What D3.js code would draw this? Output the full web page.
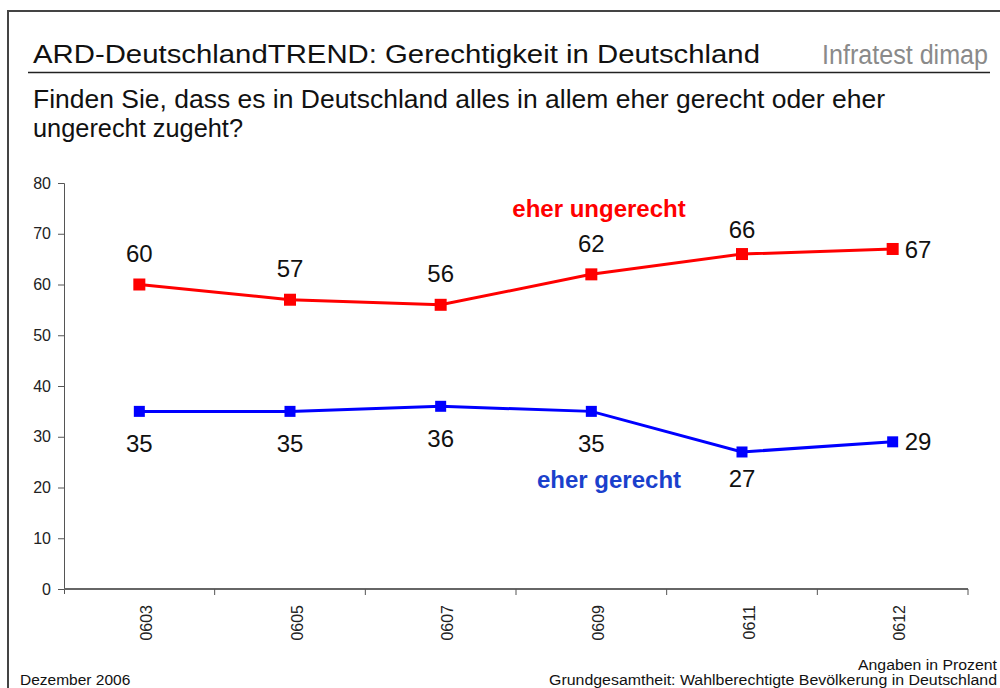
<!DOCTYPE html>
<html>
<head>
<meta charset="utf-8">
<script src="https://cdn.jsdelivr.net/npm/d3@7/dist/d3.min.js"></script>
<style>
  body { margin: 0; background: #fff; }
  svg { display: block; font-family: "Liberation Sans", Arial, sans-serif; }
</style>
</head>
<body>
<div class="chart"></div>
<script>
const categories = ['0603', '0605', '0607', '0609', '0611', '0612'];
const ungerechtValues = [60, 57, 56, 62, 66, 67];
const gerechtValues = [35, 35, 36, 35, 27, 29];
const yTicks = [0, 10, 20, 30, 40, 50, 60, 70, 80];

const series = [
  { name: 'eher ungerecht', values: ungerechtValues, color: '#ff0000', nameColor: '#ff0000', labelPos: 'above', marker: 12, nameAt: [599, 75] },
  { name: 'eher gerecht', values: gerechtValues, color: '#0000ff', nameColor: '#1a40cc', labelPos: 'below', marker: 11, nameAt: [609, 21.5] }
];

const W = 1000, H = 688;
const margin = { top: 183, right: 32, bottom: 99, left: 64 };
const width = W - margin.left - margin.right;
const height = H - margin.top - margin.bottom;

const svg = d3.select('.chart').append('svg')
  .attr('width', W)
  .attr('height', H);

// frame
svg.append('path')
  .attr('d', 'M8,688 L8,11 L1000,11')
  .attr('fill', 'none')
  .attr('stroke', '#444')
  .attr('stroke-width', 2);

// header
svg.append('text')
  .attr('x', 33).attr('y', 63)
  .attr('font-size', 26)
  .attr('textLength', 727)
  .attr('lengthAdjust', 'spacingAndGlyphs')
  .attr('fill', '#111')
  .text('ARD-DeutschlandTREND: Gerechtigkeit in Deutschland');

svg.append('text')
  .attr('x', 822).attr('y', 64)
  .attr('font-size', 27)
  .attr('textLength', 166)
  .attr('lengthAdjust', 'spacingAndGlyphs')
  .attr('fill', '#8a8a8a')
  .text('Infratest dimap');

svg.append('line')
  .attr('x1', 28).attr('x2', 990)
  .attr('y1', 72.5).attr('y2', 72.5)
  .attr('stroke', '#222')
  .attr('stroke-width', 1.3);

svg.append('text')
  .attr('x', 33).attr('y', 108)
  .attr('font-size', 25)
  .attr('textLength', 852)
  .attr('lengthAdjust', 'spacingAndGlyphs')
  .attr('fill', '#111')
  .text('Finden Sie, dass es in Deutschland alles in allem eher gerecht oder eher');

svg.append('text')
  .attr('x', 33).attr('y', 137)
  .attr('font-size', 25)
  .attr('textLength', 210)
  .attr('lengthAdjust', 'spacingAndGlyphs')
  .attr('fill', '#111')
  .text('ungerecht zugeht?');

// chart
const g = svg.append('g')
  .attr('transform', `translate(${margin.left},${margin.top})`);

const x = d3.scaleBand()
  .domain(categories)
  .range([0, width]);

const y = d3.scaleLinear()
  .domain([0, 80])
  .range([height, 0]);

const cx = d => x(d) + x.bandwidth() / 2;

// y axis
const yAxis = g.append('g')
  .call(d3.axisLeft(y).tickValues(yTicks).tickSize(6).tickPadding(7));
yAxis.select('.domain').attr('stroke', '#555').attr('d', `M-6,0.5H0.5V${height + 5}`);
yAxis.selectAll('.tick line').attr('stroke', '#555');
yAxis.selectAll('.tick text')
  .attr('font-size', 16)
  .attr('fill', '#222')
  .attr('font-family', '"Liberation Sans", Arial, sans-serif');

// x axis
const xAxis = g.append('g')
  .attr('transform', `translate(0,${height})`)
  .call(d3.axisBottom(x).tickSize(0).tickFormat(''));
xAxis.select('.domain').attr('stroke', '#666').attr('stroke-width', 2).attr('d', `M0,0H${width}`);
xAxis.selectAll('.tick').remove();

xAxis.selectAll('.bound')
  .data(categories)
  .enter().append('line')
  .attr('class', 'bound')
  .attr('x1', d => x(d) + x.bandwidth())
  .attr('x2', d => x(d) + x.bandwidth())
  .attr('y1', 0).attr('y2', 6)
  .attr('stroke', '#555');

xAxis.selectAll('.cat')
  .data(categories)
  .enter().append('text')
  .attr('class', 'cat')
  .attr('transform', d => `translate(${cx(d) + 7},${16}) rotate(-90)`)
  .attr('text-anchor', 'end')
  .attr('dy', '0.35em')
  .attr('font-size', 16)
  .attr('fill', '#222')
  .text(d => d);

// lines
const line = d3.line()
  .x((d, i) => cx(categories[i]))
  .y(d => y(d));

series.forEach(s => {
  g.append('path')
    .datum(s.values)
    .attr('fill', 'none')
    .attr('stroke', s.color)
    .attr('stroke-width', 3)
    .attr('d', line);

  g.selectAll(null)
    .data(s.values)
    .enter().append('rect')
    .attr('x', (d, i) => cx(categories[i]) - s.marker / 2)
    .attr('y', d => y(d) - s.marker / 2)
    .attr('width', s.marker)
    .attr('height', s.marker)
    .attr('fill', s.color);

  const last = s.values.length - 1;
  g.selectAll(null)
    .data(s.values)
    .enter().append('text')
    .attr('x', (d, i) => i === last ? cx(categories[i]) + 12 : cx(categories[i]))
    .attr('y', (d, i) => {
      if (i === last) return y(d);
      const gap = i === last - 1 ? 25 : 31;
      return s.labelPos === 'above' ? y(d) - gap : y(d) + gap + 1;
    })
    .attr('dy', '0.36em')
    .attr('text-anchor', (d, i) => i === last ? 'start' : 'middle')
    .attr('font-size', 24)
    .attr('fill', '#111')
    .text(d => d);

  // series name
  g.append('text')
    .attr('x', s.nameAt[0] - margin.left)
    .attr('y', y(s.nameAt[1]))
    .attr('dy', '0.35em')
    .attr('text-anchor', 'middle')
    .attr('font-size', 24)
    .attr('font-weight', 'bold')
    .attr('fill', s.nameColor)
    .text(s.name);
});

// footer
svg.append('text')
  .attr('x', 20).attr('y', 685)
  .attr('font-size', 15.5)
  .attr('fill', '#111')
  .text('Dezember 2006');

svg.append('text')
  .attr('x', 997).attr('y', 670)
  .attr('text-anchor', 'end')
  .attr('font-size', 14)
  .attr('textLength', 139)
  .attr('lengthAdjust', 'spacingAndGlyphs')
  .attr('fill', '#111')
  .text('Angaben in Prozent');

svg.append('text')
  .attr('x', 997).attr('y', 685)
  .attr('text-anchor', 'end')
  .attr('font-size', 14)
  .attr('textLength', 448)
  .attr('lengthAdjust', 'spacingAndGlyphs')
  .attr('fill', '#111')
  .text('Grundgesamtheit: Wahlberechtigte Bevölkerung in Deutschland');
</script>
</body>
</html>
